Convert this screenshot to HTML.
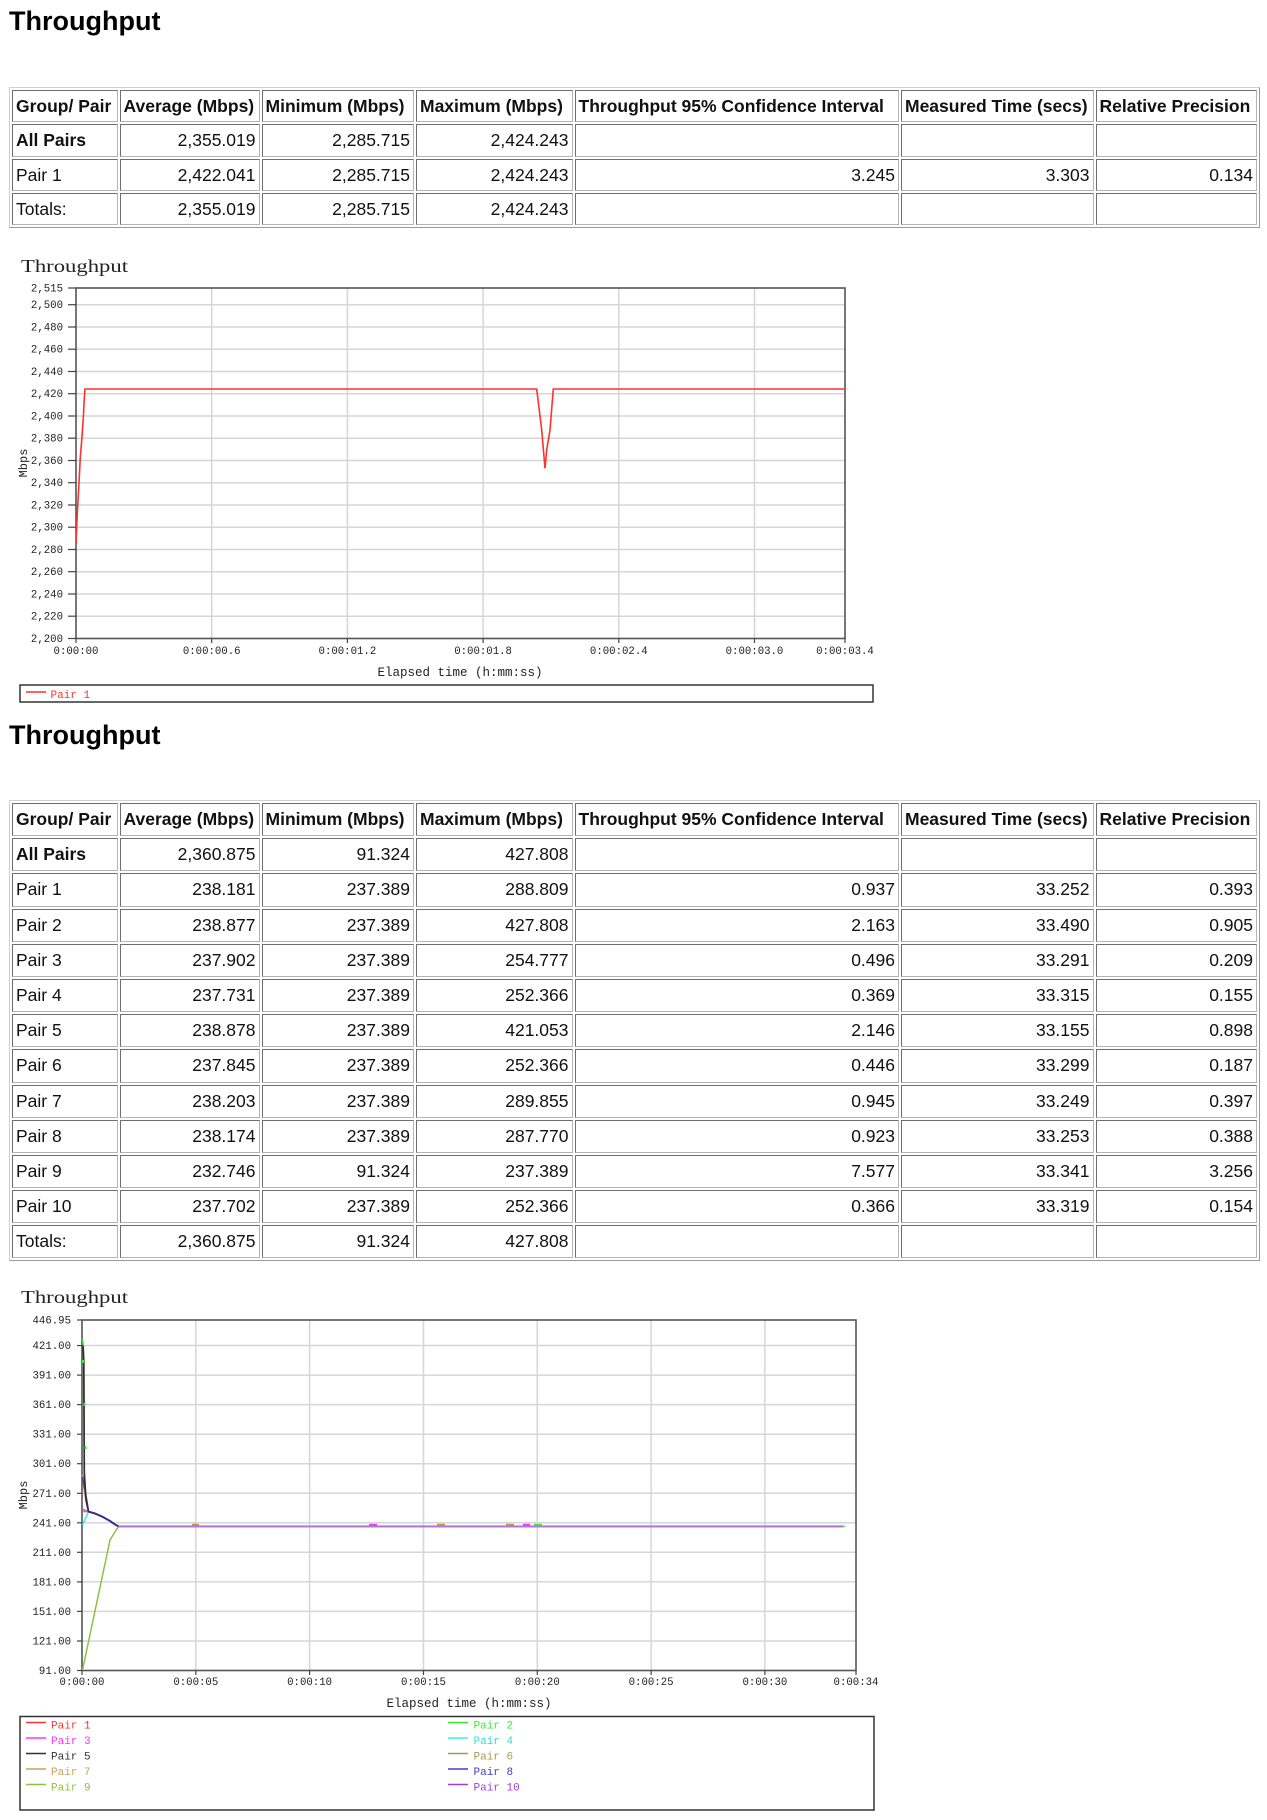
<!DOCTYPE html>
<html>
<head>
<meta charset="utf-8">
<style>
  html, body { margin:0; padding:0; background:#fff; }
  body { width:1267px; height:1820px; position:relative; overflow:hidden; font-family:"Liberation Sans", sans-serif; color:#000; }
  .title { position:absolute; left:9px; font-weight:bold; font-size:27px; line-height:27px; white-space:nowrap; }
  .t { position:absolute; left:9px; width:1251px; box-sizing:border-box; border:1px solid; border-color:#d0d0d0 #9a9a9a #9a9a9a #d0d0d0; padding:2px;
       display:grid; grid-template-columns:105.5px 140px 152.5px 156.5px 324.5px 192.5px 161.5px; grid-auto-rows:33.2px; gap:2px; }
  .t div { box-sizing:border-box; border:1px solid; border-color:#6e6e6e #b4b4b4 #b4b4b4 #6e6e6e; padding:0 3px; line-height:31.2px;
           font-size:17.5px; white-space:nowrap; overflow:hidden; color:#111; }
  .t.t1 { grid-auto-rows:32.3px; }
  .t.t1 div { line-height:30.3px; }
  .t .h { font-weight:bold; }
  .t .r { text-align:right; }
  svg { position:absolute; left:0; top:0; }
  svg text { font-family:"Liberation Mono", monospace; fill:#222; }
</style>
</head>
<body>

<div class="title" style="top:8px;">Throughput</div>

<div class="t t1" style="top:87px;">
  <div class="h">Group/ Pair</div><div class="h">Average (Mbps)</div><div class="h">Minimum (Mbps)</div><div class="h">Maximum (Mbps)</div><div class="h">Throughput 95% Confidence Interval</div><div class="h">Measured Time (secs)</div><div class="h">Relative Precision</div>
  <div class="h">All Pairs</div><div class="r">2,355.019</div><div class="r">2,285.715</div><div class="r">2,424.243</div><div></div><div></div><div></div>
  <div>Pair 1</div><div class="r">2,422.041</div><div class="r">2,285.715</div><div class="r">2,424.243</div><div class="r">3.245</div><div class="r">3.303</div><div class="r">0.134</div>
  <div>Totals:</div><div class="r">2,355.019</div><div class="r">2,285.715</div><div class="r">2,424.243</div><div></div><div></div><div></div>
</div>

<div class="title" style="top:722px;">Throughput</div>

<div class="t" style="top:800px;">
  <div class="h">Group/ Pair</div><div class="h">Average (Mbps)</div><div class="h">Minimum (Mbps)</div><div class="h">Maximum (Mbps)</div><div class="h">Throughput 95% Confidence Interval</div><div class="h">Measured Time (secs)</div><div class="h">Relative Precision</div>
  <div class="h">All Pairs</div><div class="r">2,360.875</div><div class="r">91.324</div><div class="r">427.808</div><div></div><div></div><div></div>
  <div>Pair 1</div><div class="r">238.181</div><div class="r">237.389</div><div class="r">288.809</div><div class="r">0.937</div><div class="r">33.252</div><div class="r">0.393</div>
  <div>Pair 2</div><div class="r">238.877</div><div class="r">237.389</div><div class="r">427.808</div><div class="r">2.163</div><div class="r">33.490</div><div class="r">0.905</div>
  <div>Pair 3</div><div class="r">237.902</div><div class="r">237.389</div><div class="r">254.777</div><div class="r">0.496</div><div class="r">33.291</div><div class="r">0.209</div>
  <div>Pair 4</div><div class="r">237.731</div><div class="r">237.389</div><div class="r">252.366</div><div class="r">0.369</div><div class="r">33.315</div><div class="r">0.155</div>
  <div>Pair 5</div><div class="r">238.878</div><div class="r">237.389</div><div class="r">421.053</div><div class="r">2.146</div><div class="r">33.155</div><div class="r">0.898</div>
  <div>Pair 6</div><div class="r">237.845</div><div class="r">237.389</div><div class="r">252.366</div><div class="r">0.446</div><div class="r">33.299</div><div class="r">0.187</div>
  <div>Pair 7</div><div class="r">238.203</div><div class="r">237.389</div><div class="r">289.855</div><div class="r">0.945</div><div class="r">33.249</div><div class="r">0.397</div>
  <div>Pair 8</div><div class="r">238.174</div><div class="r">237.389</div><div class="r">287.770</div><div class="r">0.923</div><div class="r">33.253</div><div class="r">0.388</div>
  <div>Pair 9</div><div class="r">232.746</div><div class="r">91.324</div><div class="r">237.389</div><div class="r">7.577</div><div class="r">33.341</div><div class="r">3.256</div>
  <div>Pair 10</div><div class="r">237.702</div><div class="r">237.389</div><div class="r">252.366</div><div class="r">0.366</div><div class="r">33.319</div><div class="r">0.154</div>
  <div>Totals:</div><div class="r">2,360.875</div><div class="r">91.324</div><div class="r">427.808</div><div></div><div></div><div></div>
</div>

<svg width="1267" height="1820" viewBox="0 0 1267 1820" xmlns="http://www.w3.org/2000/svg">
  <!-- ================= CHART 1 ================= -->
  <text x="21" y="272" style="font-family:'Liberation Serif',serif" font-size="18" textLength="107" lengthAdjust="spacingAndGlyphs" fill="#333">Throughput</text>

  <g stroke="#d6d6d6" stroke-width="1.5">
    <line x1="76" x2="845" y1="304.7" y2="304.7"/>
    <line x1="76" x2="845" y1="327.0" y2="327.0"/>
    <line x1="76" x2="845" y1="349.2" y2="349.2"/>
    <line x1="76" x2="845" y1="371.5" y2="371.5"/>
    <line x1="76" x2="845" y1="393.7" y2="393.7"/>
    <line x1="76" x2="845" y1="416.0" y2="416.0"/>
    <line x1="76" x2="845" y1="438.2" y2="438.2"/>
    <line x1="76" x2="845" y1="460.5" y2="460.5"/>
    <line x1="76" x2="845" y1="482.7" y2="482.7"/>
    <line x1="76" x2="845" y1="505.0" y2="505.0"/>
    <line x1="76" x2="845" y1="527.2" y2="527.2"/>
    <line x1="76" x2="845" y1="549.5" y2="549.5"/>
    <line x1="76" x2="845" y1="571.7" y2="571.7"/>
    <line x1="76" x2="845" y1="594.0" y2="594.0"/>
    <line x1="76" x2="845" y1="616.2" y2="616.2"/>
    <line x1="211.7" x2="211.7" y1="288" y2="638.5"/>
    <line x1="347.4" x2="347.4" y1="288" y2="638.5"/>
    <line x1="483.1" x2="483.1" y1="288" y2="638.5"/>
    <line x1="618.8" x2="618.8" y1="288" y2="638.5"/>
    <line x1="754.5" x2="754.5" y1="288" y2="638.5"/>
  </g>
  <rect x="76" y="288" width="769" height="350.5" fill="none" stroke="#555" stroke-width="1.6"/>
  <g stroke="#444" stroke-width="1.2">
    <line x1="68" x2="76" y1="288.0" y2="288.0"/>
    <line x1="68" x2="76" y1="304.7" y2="304.7"/>
    <line x1="68" x2="76" y1="327.0" y2="327.0"/>
    <line x1="68" x2="76" y1="349.2" y2="349.2"/>
    <line x1="68" x2="76" y1="371.5" y2="371.5"/>
    <line x1="68" x2="76" y1="393.7" y2="393.7"/>
    <line x1="68" x2="76" y1="416.0" y2="416.0"/>
    <line x1="68" x2="76" y1="438.2" y2="438.2"/>
    <line x1="68" x2="76" y1="460.5" y2="460.5"/>
    <line x1="68" x2="76" y1="482.7" y2="482.7"/>
    <line x1="68" x2="76" y1="505.0" y2="505.0"/>
    <line x1="68" x2="76" y1="527.2" y2="527.2"/>
    <line x1="68" x2="76" y1="549.5" y2="549.5"/>
    <line x1="68" x2="76" y1="571.7" y2="571.7"/>
    <line x1="68" x2="76" y1="594.0" y2="594.0"/>
    <line x1="68" x2="76" y1="616.2" y2="616.2"/>
    <line x1="68" x2="76" y1="638.5" y2="638.5"/>
    <line x1="76" x2="76" y1="638.5" y2="643"/>
    <line x1="211.7" x2="211.7" y1="638.5" y2="643"/>
    <line x1="347.4" x2="347.4" y1="638.5" y2="643"/>
    <line x1="483.1" x2="483.1" y1="638.5" y2="643"/>
    <line x1="618.8" x2="618.8" y1="638.5" y2="643"/>
    <line x1="754.5" x2="754.5" y1="638.5" y2="643"/>
    <line x1="845" x2="845" y1="638.5" y2="643"/>
  </g>
  <g font-size="10.7" text-anchor="end">
    <text x="63" y="291.5">2,515</text>
    <text x="63" y="308.2">2,500</text>
    <text x="63" y="330.5">2,480</text>
    <text x="63" y="352.7">2,460</text>
    <text x="63" y="375.0">2,440</text>
    <text x="63" y="397.2">2,420</text>
    <text x="63" y="419.5">2,400</text>
    <text x="63" y="441.7">2,380</text>
    <text x="63" y="464.0">2,360</text>
    <text x="63" y="486.2">2,340</text>
    <text x="63" y="508.5">2,320</text>
    <text x="63" y="530.7">2,300</text>
    <text x="63" y="553.0">2,280</text>
    <text x="63" y="575.2">2,260</text>
    <text x="63" y="597.5">2,240</text>
    <text x="63" y="619.7">2,220</text>
    <text x="63" y="642.0">2,200</text>
  </g>
  <g font-size="10.7" text-anchor="middle">
    <text x="76" y="654">0:00:00</text>
    <text x="211.7" y="654">0:00:00.6</text>
    <text x="347.4" y="654">0:00:01.2</text>
    <text x="483.1" y="654">0:00:01.8</text>
    <text x="618.8" y="654">0:00:02.4</text>
    <text x="754.5" y="654">0:00:03.0</text>
    <text x="845" y="654">0:00:03.4</text>
  </g>
  <text x="0" y="0" font-size="12" text-anchor="middle" transform="translate(27,463) rotate(-90)">Mbps</text>
  <text x="460" y="676" font-size="12.5" text-anchor="middle">Elapsed time (h:mm:ss)</text>

  <polyline fill="none" stroke="#ff3030" stroke-width="1.6" points="76,543.1 77.3,513 78.3,495 79.3,477 80.3,457 82,437 83.3,418 84.3,398 85,389 536.7,389 541.7,430 545,468.3 546.7,450 550,430 553.3,389 845,389"/>

  <rect x="20" y="685" width="853" height="17" fill="none" stroke="#333" stroke-width="1.5"/>
  <line x1="26" x2="46" y1="692" y2="692" stroke="#ff3030" stroke-width="1.5"/>
  <text x="50.5" y="698" font-size="11" style="fill:#ff3030">Pair 1</text>

  <!-- ================= CHART 2 ================= -->
  <text x="21" y="1303" style="font-family:'Liberation Serif',serif" font-size="18" textLength="107" lengthAdjust="spacingAndGlyphs" fill="#333">Throughput</text>

  <g stroke="#d6d6d6" stroke-width="1.5">
    <line x1="82" x2="856" y1="1345.55" y2="1345.55"/>
    <line x1="82" x2="856" y1="1375.1" y2="1375.1"/>
    <line x1="82" x2="856" y1="1404.6" y2="1404.6"/>
    <line x1="82" x2="856" y1="1434.2" y2="1434.2"/>
    <line x1="82" x2="856" y1="1463.7" y2="1463.7"/>
    <line x1="82" x2="856" y1="1493.3" y2="1493.3"/>
    <line x1="82" x2="856" y1="1522.8" y2="1522.8"/>
    <line x1="82" x2="856" y1="1552.3" y2="1552.3"/>
    <line x1="82" x2="856" y1="1581.9" y2="1581.9"/>
    <line x1="82" x2="856" y1="1611.4" y2="1611.4"/>
    <line x1="82" x2="856" y1="1641.0" y2="1641.0"/>
    <line x1="195.8" x2="195.8" y1="1320" y2="1670.5"/>
    <line x1="309.6" x2="309.6" y1="1320" y2="1670.5"/>
    <line x1="423.5" x2="423.5" y1="1320" y2="1670.5"/>
    <line x1="537.3" x2="537.3" y1="1320" y2="1670.5"/>
    <line x1="651.1" x2="651.1" y1="1320" y2="1670.5"/>
    <line x1="764.9" x2="764.9" y1="1320" y2="1670.5"/>
  </g>
  <rect x="82" y="1320" width="774" height="350.5" fill="none" stroke="#555" stroke-width="1.6"/>
  <g stroke="#444" stroke-width="1.2">
    <line x1="77" x2="82" y1="1320" y2="1320"/>
    <line x1="77" x2="82" y1="1345.55" y2="1345.55"/>
    <line x1="77" x2="82" y1="1375.1" y2="1375.1"/>
    <line x1="77" x2="82" y1="1404.6" y2="1404.6"/>
    <line x1="77" x2="82" y1="1434.2" y2="1434.2"/>
    <line x1="77" x2="82" y1="1463.7" y2="1463.7"/>
    <line x1="77" x2="82" y1="1493.3" y2="1493.3"/>
    <line x1="77" x2="82" y1="1522.8" y2="1522.8"/>
    <line x1="77" x2="82" y1="1552.3" y2="1552.3"/>
    <line x1="77" x2="82" y1="1581.9" y2="1581.9"/>
    <line x1="77" x2="82" y1="1611.4" y2="1611.4"/>
    <line x1="77" x2="82" y1="1641.0" y2="1641.0"/>
    <line x1="77" x2="82" y1="1670.5" y2="1670.5"/>
    <line x1="82" x2="82" y1="1670.5" y2="1675"/>
    <line x1="195.8" x2="195.8" y1="1670.5" y2="1675"/>
    <line x1="309.6" x2="309.6" y1="1670.5" y2="1675"/>
    <line x1="423.5" x2="423.5" y1="1670.5" y2="1675"/>
    <line x1="537.3" x2="537.3" y1="1670.5" y2="1675"/>
    <line x1="651.1" x2="651.1" y1="1670.5" y2="1675"/>
    <line x1="764.9" x2="764.9" y1="1670.5" y2="1675"/>
    <line x1="856" x2="856" y1="1670.5" y2="1675"/>
  </g>
  <g font-size="10.7" text-anchor="end">
    <text x="71" y="1323.5">446.95</text>
    <text x="71" y="1349">421.00</text>
    <text x="71" y="1378.6">391.00</text>
    <text x="71" y="1408.1">361.00</text>
    <text x="71" y="1437.7">331.00</text>
    <text x="71" y="1467.2">301.00</text>
    <text x="71" y="1496.8">271.00</text>
    <text x="71" y="1526.3">241.00</text>
    <text x="71" y="1555.8">211.00</text>
    <text x="71" y="1585.4">181.00</text>
    <text x="71" y="1614.9">151.00</text>
    <text x="71" y="1644.5">121.00</text>
    <text x="71" y="1674">91.00</text>
  </g>
  <g font-size="10.7" text-anchor="middle">
    <text x="82" y="1685">0:00:00</text>
    <text x="195.8" y="1685">0:00:05</text>
    <text x="309.6" y="1685">0:00:10</text>
    <text x="423.5" y="1685">0:00:15</text>
    <text x="537.3" y="1685">0:00:20</text>
    <text x="651.1" y="1685">0:00:25</text>
    <text x="764.9" y="1685">0:00:30</text>
    <text x="856" y="1685">0:00:34</text>
  </g>
  <text x="0" y="0" font-size="12" text-anchor="middle" transform="translate(27,1495) rotate(-90)">Mbps</text>
  <text x="469" y="1707" font-size="12.5" text-anchor="middle">Elapsed time (h:mm:ss)</text>

  <!-- series -->
  <g fill="none" stroke-width="1.5" stroke-linejoin="round">
    <polyline stroke="#ff3333" points="82.5,1475.7 85,1495 88.5,1511.6 95,1513.5 102,1516.5 110,1521 115,1524.5 118.5,1526.35 843,1526.35"/>
    <polyline stroke="#33ee33" points="82.5,1338.9 83.3,1345.5 83.8,1362 84.3,1473 86,1500 88.5,1511.6 95,1513.5 102,1516.5 110,1521 115,1524.5 118.5,1526.35 845,1526.35"/>
    <polyline stroke="#ff33ff" points="82.5,1509.2 88.5,1511.6 95,1513.5 102,1516.5 110,1521 115,1524.5 118.5,1526.35 843,1526.35"/>
    <polyline stroke="#33eeee" points="82.5,1525 88.5,1511.6 95,1513.5 102,1516.5 110,1521 115,1524.5 118.5,1526.35 843,1526.35"/>
    <polyline stroke="#a89a50" points="82.5,1511.6 88.5,1511.6 95,1513.5 102,1516.5 110,1521 115,1524.5 118.5,1526.35 843,1526.35"/>
    <polyline stroke="#c8a060" points="82.5,1474.7 85,1494 88.5,1511.6 95,1513.5 102,1516.5 110,1521 115,1524.5 118.5,1526.35 843,1526.35"/>
    <polyline stroke="#4040c8" points="82.5,1476.7 87.3,1503 88.5,1511.6 95,1513.5 102,1516.5 110,1521 115,1524.5 118.5,1526.35 843,1526.35"/>
    <polyline stroke="#2f2f2f" stroke-width="1.7" points="83,1345.5 83.8,1362 84.3,1473 86,1500 88.5,1511.6 95,1513.5 102,1516.5 110,1521 115,1524.5 118.5,1526.35"/>
    <polyline stroke="#90c040" points="82.5,1670 110,1540 118.5,1526.35 843,1526.35"/>
    <polyline stroke="#3a2a90" stroke-width="1.8" points="88.5,1511.6 95,1513.5 102,1516.5 110,1521 115,1524.5 118.5,1526.35"/>
    <polyline stroke="#b07ad0" stroke-width="2" points="118.5,1526.35 843,1526.35"/>
  </g>
  <g fill="#33ee33">
    <rect x="82" y="1360" width="2" height="3"/>
    <rect x="83.5" y="1403" width="2" height="3"/>
    <rect x="84.5" y="1446" width="2" height="3"/>
  </g>
  <g stroke-width="2">
    <line x1="192" x2="199" y1="1524.8" y2="1524.8" stroke="#c89050"/>
    <line x1="369" x2="377" y1="1524.8" y2="1524.8" stroke="#ff33ff"/>
    <line x1="437" x2="445" y1="1524.8" y2="1524.8" stroke="#c89050"/>
    <line x1="506" x2="514" y1="1524.8" y2="1524.8" stroke="#c89050"/>
    <line x1="523" x2="530" y1="1524.8" y2="1524.8" stroke="#ff33ff"/>
    <line x1="534" x2="542" y1="1524.8" y2="1524.8" stroke="#33ee33"/>
  </g>

  <!-- legend 2 -->
  <rect x="20" y="1716.5" width="854" height="93.5" fill="none" stroke="#333" stroke-width="1.5"/>
  <g stroke-width="1.5">
    <line x1="26" x2="46" y1="1722.5" y2="1722.5" stroke="#ff3333"/>
    <line x1="26" x2="46" y1="1738" y2="1738" stroke="#ff33ff"/>
    <line x1="26" x2="46" y1="1753.5" y2="1753.5" stroke="#333333"/>
    <line x1="26" x2="46" y1="1769" y2="1769" stroke="#c8a060"/>
    <line x1="26" x2="46" y1="1784.5" y2="1784.5" stroke="#90c040"/>
    <line x1="448" x2="468" y1="1722.5" y2="1722.5" stroke="#33ee33"/>
    <line x1="448" x2="468" y1="1738" y2="1738" stroke="#33eeee"/>
    <line x1="448" x2="468" y1="1753.5" y2="1753.5" stroke="#a89a50"/>
    <line x1="448" x2="468" y1="1769" y2="1769" stroke="#4040c8"/>
    <line x1="448" x2="468" y1="1784.5" y2="1784.5" stroke="#a040d0"/>
  </g>
  <g font-size="11">
    <text x="51" y="1728.5" style="fill:#ff3333">Pair 1</text>
    <text x="51" y="1744" style="fill:#ff33ff">Pair 3</text>
    <text x="51" y="1759.5" style="fill:#333333">Pair 5</text>
    <text x="51" y="1775" style="fill:#c8a060">Pair 7</text>
    <text x="51" y="1790.5" style="fill:#90c040">Pair 9</text>
    <text x="473.5" y="1728.5" style="fill:#33ee33">Pair 2</text>
    <text x="473.5" y="1744" style="fill:#33dddd">Pair 4</text>
    <text x="473.5" y="1759.5" style="fill:#a89a50">Pair 6</text>
    <text x="473.5" y="1775" style="fill:#4040c8">Pair 8</text>
    <text x="473.5" y="1790.5" style="fill:#a040d0">Pair 10</text>
  </g>
</svg>

</body>
</html>
